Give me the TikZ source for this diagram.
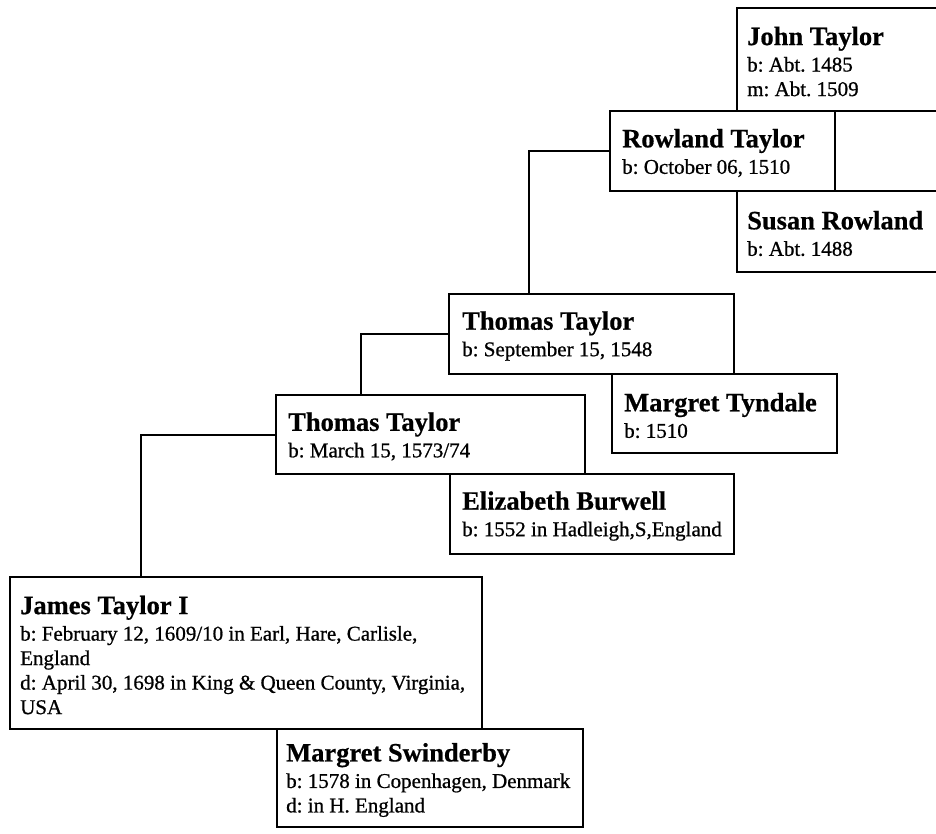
\documentclass[tikz,border=0pt]{standalone}
\usetikzlibrary{fit}
\usepackage{fontspec}
\setmainfont{Liberation Serif}
\newfontfamily\detfont[FakeBold=0.8]{Liberation Serif}
\newfontfamily\namefont[FakeBold=0.6]{Liberation Serif Bold}
\newcommand\nm[1]{{\fontsize{26.5}{30}\selectfont\namefont #1}\\[2pt]}
\tikzset{
  pbox/.style={draw, line width=2pt, rectangle, inner sep=0pt},
  ptxt/.style={anchor=west, inner sep=0pt, align=left,
    font=\fontsize{21}{24.5}\selectfont\detfont\frenchspacing},
  link/.style={line width=2pt},
}
\begin{document}
\begin{tikzpicture}[x=1pt,y=-1pt]
\useasboundingbox (0,0) rectangle (936,834);
\clip (0,0) rectangle (936,834);
\fill[white] (0,0) rectangle (936,834);

\node[pbox, fit={(737,8)(946,111)}] (john) {};
\node[pbox, fit={(610,111)(835,191)}] (rowland) {};
\node[pbox, fit={(737,191)(946,272)}] (susan) {};
\node[pbox, fit={(449,294)(734,374)}] (thomasA) {};
\node[pbox, fit={(612,374)(837,453)}] (tyndale) {};
\node[pbox, fit={(276,395)(585,474)}] (thomasB) {};
\node[pbox, fit={(450,474)(734,554)}] (burwell) {};
\node[pbox, fit={(10,577)(482,729)}] (james) {};
\node[pbox, fit={(277,729)(583,827)}] (swinderby) {};

\node[ptxt] (johnT) at ([xshift=11pt,yshift=-2pt]john.west)
  {\nm{John Taylor} b: Abt. 1485\\ m: Abt. 1509};
\node[ptxt] (rowlandT) at ([xshift=13pt,yshift=-2pt]rowland.west)
  {\nm{Rowland Taylor} b: October 06, 1510};
\node[ptxt] (susanT) at ([xshift=11pt,yshift=-2pt]susan.west)
  {\nm{Susan Rowland} b: Abt. 1488};
\node[ptxt] (thomasAT) at ([xshift=14pt,yshift=-2pt]thomasA.west)
  {\nm{Thomas Taylor} b: September 15, 1548};
\node[ptxt] (tyndaleT) at ([xshift=13pt,yshift=-2pt]tyndale.west)
  {\nm{Margret Tyndale} b: 1510};
\node[ptxt] (thomasBT) at ([xshift=13pt,yshift=-2pt]thomasB.west)
  {\nm{Thomas Taylor} b: March 15, 1573/74};
\node[ptxt] (burwellT) at ([xshift=13pt,yshift=-2pt]burwell.west)
  {\nm{Elizabeth Burwell} b: 1552 in Hadleigh,S,England};
\node[ptxt] (jamesT) at ([xshift=11pt,yshift=-2pt]james.west)
  {\nm{James Taylor I} b: February 12, 1609/10 in Earl, Hare, Carlisle,\\ England\\ d: April 30, 1698 in King \& Queen County, Virginia,\\ USA};
\node[ptxt] (swinderbyT) at ([xshift=10pt,yshift=-2pt]swinderby.west)
  {\nm{Margret Swinderby} b: 1578 in Copenhagen, Denmark\\ d: in H. England};

\draw[link] (rowland.west) -| ([xshift=81pt]thomasA.north west);
\draw[link] (thomasA.west) -| ([xshift=86pt]thomasB.north west);
\draw[link] (thomasB.west) -| ([xshift=132pt]james.north west);
\end{tikzpicture}
\end{document}
